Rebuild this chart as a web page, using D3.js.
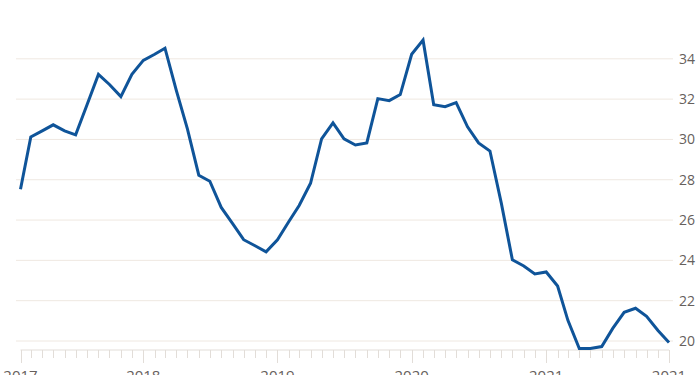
<!DOCTYPE html>
<html lang="en">
<head>
<meta charset="utf-8">
<title>Monthly series</title>
<script src="https://cdn.jsdelivr.net/npm/d3@7"></script>
<style>
  body { margin: 0; background: #fff; }
  svg { display: block; }
  .grid line { stroke: #efe8e1; stroke-width: 1; }
  .grid path { display: none; }
  .yaxis text { fill: #66605c; font-family: "Open Sans", sans-serif; font-size: 14px; }
  .xaxis line, .xaxis path { stroke: #e2ddd8; }
  .xaxis text { fill: #66605c; font-family: "Open Sans", sans-serif; font-size: 15px; }
</style>
</head>
<body>
<script>
// monthly values, Feb 2017 .. Dec 2021
var startMonth = [2017, 1];
var values = [
  27.5, 30.1, 30.4, 30.7, 30.4, 30.2, 31.7, 33.2, 32.7, 32.1, 33.2,   // 2017
  33.9, 34.2, 34.5, 32.4, 30.5, 28.2, 27.9, 26.6, 25.8, 25.0, 24.7, 24.4, // 2018
  25.0, 25.9, 26.7, 27.8, 30.0, 30.8, 30.0, 29.7, 29.8, 32.0, 31.9, 32.2, // 2019
  34.2, 34.9, 31.7, 31.6, 31.8, 30.6, 29.8, 29.4, 26.8, 24.0, 23.7, 23.3, // 2020
  23.4, 22.7, 21.0, 19.6, 19.6, 19.7, 20.6, 21.4, 21.6, 21.2, 20.5, 19.9  // 2021
];
var yTicks = [20, 22, 24, 26, 28, 30, 32, 34];
var yearLabels = ["2017", "2018", "2019", "2020", "2021", "2021"];

var W = 700, H = 375;
var data = values.map(function(v, i) {
  return { date: new Date(startMonth[0], startMonth[1] + i, 1), value: v };
});

var svg = d3.select("body").append("svg").attr("width", W).attr("height", H);

var x = d3.scaleTime()
  .domain([data[0].date, data[data.length - 1].date])
  .range([20.5, 669]);
var y = d3.scaleLinear().domain([20, 34]).range([340.5, 58.3]);

// gridlines + right labels
var gy = svg.append("g").attr("class", "grid yaxis")
  .attr("transform", "translate(673,0)")
  .call(d3.axisRight(y).tickValues(yTicks).tickSize(-657).tickPadding(6));
gy.selectAll("text").attr("dy", "0.36em");

// x axis: a tick every month, longer ticks at year starts
var axisY = 350;
var xa = svg.append("g").attr("class", "xaxis");
xa.append("line")
  .attr("x1", x(data[0].date)).attr("x2", x(data[data.length - 1].date))
  .attr("y1", axisY).attr("y2", axisY);
xa.selectAll("line.tick").data(data).enter().append("line")
  .attr("class", "tick")
  .attr("x1", function(d) { return Math.round(x(d.date)) + 0.5; })
  .attr("x2", function(d) { return Math.round(x(d.date)) + 0.5; })
  .attr("y1", axisY)
  .attr("y2", function(d, i) {
    var major = d.date.getMonth() === 0 || i === 0 || i === data.length - 1;
    return major ? axisY + 13 : axisY + 8;
  });

var labelDates = [data[0].date, new Date(2018, 0, 1), new Date(2019, 0, 1),
  new Date(2020, 0, 1), new Date(2021, 0, 1), data[data.length - 1].date];
xa.selectAll("text").data(labelDates).enter().append("text")
  .attr("x", function(d) { return x(d); })
  .attr("y", 381)
  .attr("text-anchor", "middle")
  .text(function(d, i) { return yearLabels[i]; });

// line
var line = d3.line()
  .x(function(d) { return x(d.date); })
  .y(function(d) { return y(d.value); });

svg.append("path")
  .datum(data)
  .attr("fill", "none")
  .attr("stroke", "#0f5499")
  .attr("stroke-width", 3)
  .attr("stroke-linejoin", "miter")
  .attr("d", line);
</script>
</body>
</html>
